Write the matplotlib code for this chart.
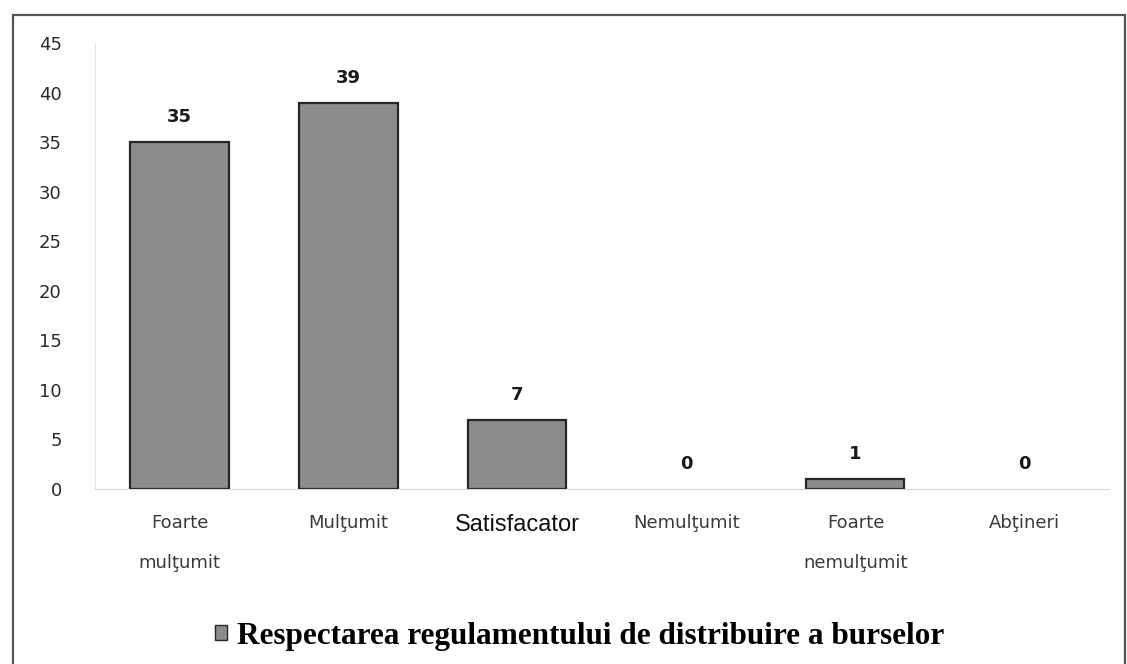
import matplotlib
matplotlib.use('Agg')
import matplotlib.pyplot as plt
from matplotlib.patches import Rectangle, Patch

categories = ['Foarte\nmulţumit', 'Mulţumit', 'Satisfacator', 'Nemulţumit',
              'Foarte\nnemulţumit', 'Abţineri']
values = [35, 39, 7, 0, 1, 0]
series_name = 'Respectarea regulamentului de distribuire a burselor'
yticks = [0, 5, 10, 15, 20, 25, 30, 35, 40, 45]

fig = plt.figure(figsize=(11.27, 6.64), dpi=100)
ax = fig.add_axes([0.0843, 0.2636, 0.8997, 0.6714])

x = range(len(values))
# zero-height bars are not drawn with an outline in the original
lws = [1.6 if v > 0 else 0 for v in values]
ax.bar(x, values, width=0.58, color='#8c8c8c', edgecolor='#262626', linewidth=lws)

# value labels above the bars
for xi, v in zip(x, values):
    ax.text(xi, v + 1.6, str(v), ha='center', va='bottom', fontsize=13,
            fontweight='bold', family='DejaVu Sans', color='#1a1a1a')

ax.set_xlim(-0.5, len(values) - 0.5)
ax.set_ylim(0, 45)
ax.set_yticks(yticks)
ax.set_yticklabels([str(t) for t in yticks], family='DejaVu Sans', fontsize=13, color='#2a2a2a')
ax.tick_params(axis='y', length=0, pad=24)
ax.set_xticks(list(x))
ax.set_xticklabels(categories, family='DejaVu Sans', fontsize=13, color='#3a3a3a', linespacing=2.55)
ax.tick_params(axis='x', length=0, pad=18)
# Satisfacator is set in a different font in the original
lbl = ax.get_xticklabels()[2]
lbl.set_family('Liberation Sans')
lbl.set_fontsize(17)
lbl.set_color('#111111')

for s in ['top', 'right']:
    ax.spines[s].set_visible(False)
ax.spines['left'].set_color('#e4e4e4')
ax.spines['bottom'].set_color('#d8d8d8')

# outer frame
fig.patches.append(Rectangle((0.0115, -0.05), 0.9865, 1.027, transform=fig.transFigure,
                             fill=False, edgecolor='#555555', linewidth=1.6))

handle = Patch(facecolor='#8c8c8c', edgecolor='#262626', linewidth=1.0)
fig.legend([handle], [series_name], loc='center', bbox_to_anchor=(0.514, 0.042),
           frameon=False, handlelength=0.4, handleheight=0.4, handletextpad=0.3,
           prop={'family': 'Liberation Serif', 'weight': 'bold', 'size': 22.5})

fig.savefig('out.png', dpi=100)
